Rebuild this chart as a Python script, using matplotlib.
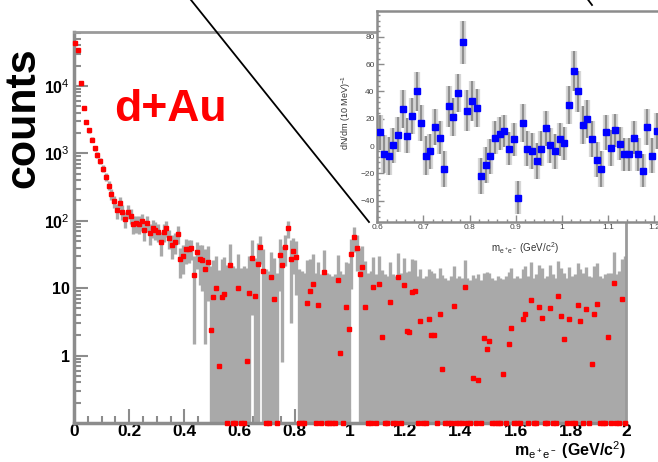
import numpy as np
import matplotlib
matplotlib.use('Agg')
import matplotlib.pyplot as plt
from matplotlib.ticker import (MultipleLocator, FixedLocator, FixedFormatter, LogLocator,
                               NullFormatter, FuncFormatter)

plt.rcParams['font.family'] = ['Liberation Sans', 'DejaVu Sans']
plt.rcParams['mathtext.fontset'] = 'custom'
plt.rcParams['mathtext.rm'] = 'Liberation Sans'
plt.rcParams['mathtext.it'] = 'Liberation Sans'
plt.rcParams['mathtext.bf'] = 'Liberation Sans:bold'

# main spectrum, 10 MeV bins from 0 to 2 GeV
counts = [44000, 34000, 11000, 4700, 2950, 2180, 1600, 1200, 950, 780,
          590, 445, 333, 250, 195, 142, 185, 137, 107, 137,
          118, 90, 92, 90, 98, 74, 93, 66, 79, 74,
          69, 49, 68, 79, 56, 44, 49, 64, 27, 30,
          38, 38, 39, 15.5, 34, 27, 26, 19.5, 24.5, 2.4,
          7.4, 10, 0.7, 7.4, 8.3, 0, 21.8, 0, 0, 10,
          0, 0, 0.84, 8.5, 28, 7.6, 23, 41, 18, 0,
          0, 14.7, 6.8, 0, 31, 21.8, 41, 78, 27, 36,
          29, 0, 0, 0, 6.1, 9, 11.4, 0, 5.6, 0,
          17.4, 0, 0, 0, 0, 13.4, 1.1, 0, 5.3, 2.5,
          31.6, 58, 40, 16.4, 20.6, 5.3, 0, 0, 10.3, 0,
          11.6, 1.9, 0, 0, 6.2, 0, 0, 14.7, 0, 11,
          2.3, 2.2, 8.8, 9.2, 0, 3.3, 0, 0, 3.5, 2,
          2, 0, 4.1, 0.64, 0, 0, 0, 5.4, 0, 0,
          0, 10.4, 0, 0, 0.46, 0, 0.43, 0, 1.85, 1.24,
          1.65, 0, 0, 0, 0, 0.53, 0, 1.5, 2.6, 0,
          0, 0, 3.5, 4.2, 0, 6.7, 0, 0, 5.2, 3.6,
          0, 0, 5, 0, 0, 7.7, 3.8, 1.76, 0, 3.5,
          0, 0, 5.6, 3.3, 0, 4.9, 0, 0.75, 4.2, 5.9,
          0, 0, 0, 1.9, 0, 12, 0, 0, 6.9, 0]
errors = [900, 800, 400, 250, 180, 150, 120, 100, 90, 80,
          70, 60, 52, 45, 40, 35, 38, 33, 30, 32,
          30, 27, 27, 26, 27, 24, 25, 22, 23, 22,
          21, 19, 20, 21, 18, 17, 17, 19, 13, 14,
          15, 14, 13, 14, 15, 16, 17, 18, 18, 19,
          19, 20, 18, 20, 21, 22, 24, 21, 20, 22,
          20, 21, 19, 22, 24, 20, 23, 18, 20, 19,
          18, 20, 21, 17, 22, 21, 20, 22, 24, 20,
          21, 19, 18, 17, 20, 18, 21, 17, 19, 16,
          20, 17, 16, 15, 16, 18, 17, 16, 19, 21,
          22, 24, 22, 23, 22, 20, 17, 18, 19, 16,
          18, 17, 16, 15, 18, 16, 15, 18, 17, 17,
          15, 16, 18, 17, 15, 16, 14, 15, 16, 16,
          15, 14, 16, 15, 14, 13, 15, 16, 14, 15,
          14, 16, 14, 13, 15, 14, 16, 13, 15, 16,
          15, 14, 13, 15, 14, 13, 15, 16, 17, 14,
          15, 14, 16, 17, 15, 18, 14, 16, 17, 16,
          14, 15, 17, 16, 14, 18, 16, 15, 14, 17,
          15, 16, 18, 16, 17, 16, 15, 14, 17, 18,
          15, 14, 16, 15, 17, 22, 16, 18, 20, 30]

# inset: background-subtracted yield, 0.6 - 1.2 GeV
inset_counts = [10, -5.6, -7.6, 0.5, 8.3, 27, 7.6, 22, 40, 17,
                -7, -4, 14, 6, -17, 29, 21.5, 39, 76, 26,
                33, 28, -22, -14, -7.6, 6, 9, 11, -2, 5,
                -38, 17, -2, -3.7, -11, -2, 13, 0.5, -4, 5,
                2, 30, 55, 40, 15.6, 20, 5, -10, -17, 10,
                -1.5, 11.5, 1.7, -6, -6, 6, -6, -18, 14, -7, 11]
inset_errors = [13, 14, 14, 13, 13, 14, 13, 13, 14, 13,
                14, 13, 13, 12, 13, 15, 14, 14, 16, 15,
                15, 14, 13, 13, 13, 12, 12, 12, 12, 12,
                12, 14, 13, 13, 13, 13, 13, 13, 13, 12,
                12, 14, 15, 15, 14, 14, 13, 13, 13, 13,
                13, 12, 12, 12, 12, 12, 12, 12, 13, 13, 13]

x_ticks = [0, 0.2, 0.4, 0.6, 0.8, 1.0, 1.2, 1.4, 1.6, 1.8, 2.0]
y_ticks = [1, 10, 100, 1000, 10000]
y_tick_labels = ['1', '10', r'10$^{2}$', r'10$^{3}$', r'10$^{4}$']

counts = np.array(counts, dtype=float)
errors = np.array(errors, dtype=float)
mass = np.linspace(0.005, 1.995, len(counts))
inset_counts = np.array(inset_counts, dtype=float)
inset_errors = np.array(inset_errors, dtype=float)
inset_mass = 0.605 + 0.01 * np.arange(len(inset_counts))

W, H = 658, 462
fig = plt.figure(figsize=(W / 100, H / 100), dpi=100)
frame = '#8c8c8c'
fmt_g = FuncFormatter(lambda v, p: '%g' % round(v, 3))

ax = fig.add_axes([74 / W, 39 / H, 552 / W, 391 / H])
ymin = 0.1
shown = np.where(counts > 0, counts, ymin)
lo = np.clip(counts - errors, ymin, None)
hi = counts + errors
ax.vlines(mass, lo, hi, color='#a9a9a9', lw=2.4, zorder=2)
ax.plot(mass, shown, 's', color='red', ms=3.5, mec='red', zorder=5, clip_on=False)
ax.set_yscale('log')
ax.set_xlim(0, 2)
ax.set_ylim(ymin, 6.3e4)

ax.xaxis.set_major_locator(FixedLocator(x_ticks))
ax.xaxis.set_major_formatter(fmt_g)
ax.xaxis.set_minor_locator(MultipleLocator(0.05))
ax.yaxis.set_major_locator(FixedLocator(y_ticks))
ax.yaxis.set_major_formatter(FixedFormatter(y_tick_labels))
ax.yaxis.set_minor_locator(LogLocator(base=10, subs=np.arange(2, 10)))
ax.yaxis.set_minor_formatter(NullFormatter())
ax.tick_params(which='both', direction='in', color=frame, width=1.5,
               top=False, right=False, labelsize=12.5, pad=1)
ax.tick_params(axis='y', labelsize=11.5, pad=3)
ax.tick_params(which='major', length=10)
ax.tick_params(which='minor', length=5)
for lab in ax.get_xticklabels() + ax.get_yticklabels():
    lab.set_fontweight('bold')
for side in ['left', 'bottom']:
    ax.spines[side].set_color(frame)
    ax.spines[side].set_linewidth(2.5)
for side in ['top', 'right']:
    ax.spines[side].set_color('#9a9a9a')
    ax.spines[side].set_linewidth(2)

fig.text(626 / W, 1 / H, r'm$_{e^+e^-}$ (GeV/c$^{2}$)', ha='right', va='bottom',
         fontsize=11.5, fontweight='bold')
fig.text(23 / W, 1 - 118 / H, 'counts', rotation=90, ha='center', va='center',
         fontsize=31, fontweight='bold')
fig.text(114 / W, 1 - 121 / H, 'd+Au', ha='left', va='baseline',
         fontsize=32, fontweight='bold', color='red')

# inset
ins = fig.add_axes([377.3 / W, 240.3 / H, 284 / W, 210.7 / H])
ins.set_zorder(10)
ins.set_facecolor('white')
ins.vlines(inset_mass, inset_counts - inset_errors, inset_counts + inset_errors,
           color='#d6d6d6', lw=4.5, zorder=2)
ins.vlines(inset_mass, inset_counts - inset_errors, inset_counts + inset_errors,
           color='#8f8f8f', lw=1.6, zorder=3)
ins.plot(inset_mass, inset_counts, 's', color='#0000ff', ms=3.8, mec='#0000ff', zorder=5)
ins.set_xlim(0.6, 1.215)
ins.set_ylim(-55.5, 99)
ins.xaxis.set_major_locator(MultipleLocator(0.1))
ins.xaxis.set_major_formatter(fmt_g)
ins.xaxis.set_minor_locator(MultipleLocator(0.02))
ins.yaxis.set_major_locator(MultipleLocator(20))
ins.yaxis.set_minor_locator(MultipleLocator(4))
ins.tick_params(which='both', direction='in', color=frame, width=1,
                top=False, right=False, labelsize=6, labelcolor='#444444', pad=2)
ins.tick_params(which='major', length=5)
ins.tick_params(which='minor', length=2.5)
for side in ['left', 'bottom', 'top']:
    ins.spines[side].set_color(frame)
    ins.spines[side].set_linewidth(1.8)
ins.spines['right'].set_visible(False)
ins.set_xlabel(r'm$_{e^+e^-}$ (GeV/c$^{2}$)', fontsize=7, color='#333333')
ins.xaxis.set_label_coords(0.52, -0.09)
ins.set_ylabel(r'dN/dm (10 MeV)$^{-1}$', fontsize=6.5, color='#333333')
ins.yaxis.set_label_coords(-0.085, 0.52)

# zoom lines towards the inset
fig.add_artist(plt.Line2D([183 / W, 369 / W], [1 + 10 / H, 1 - 222 / H],
                          transform=fig.transFigure, color='black', lw=1.3))
fig.add_artist(plt.Line2D([586 / W, 592 / W], [1 + 3 / H, 1 - 5 / H],
                          transform=fig.transFigure, color='black', lw=1.3))

fig.savefig('out.png', dpi=100)
